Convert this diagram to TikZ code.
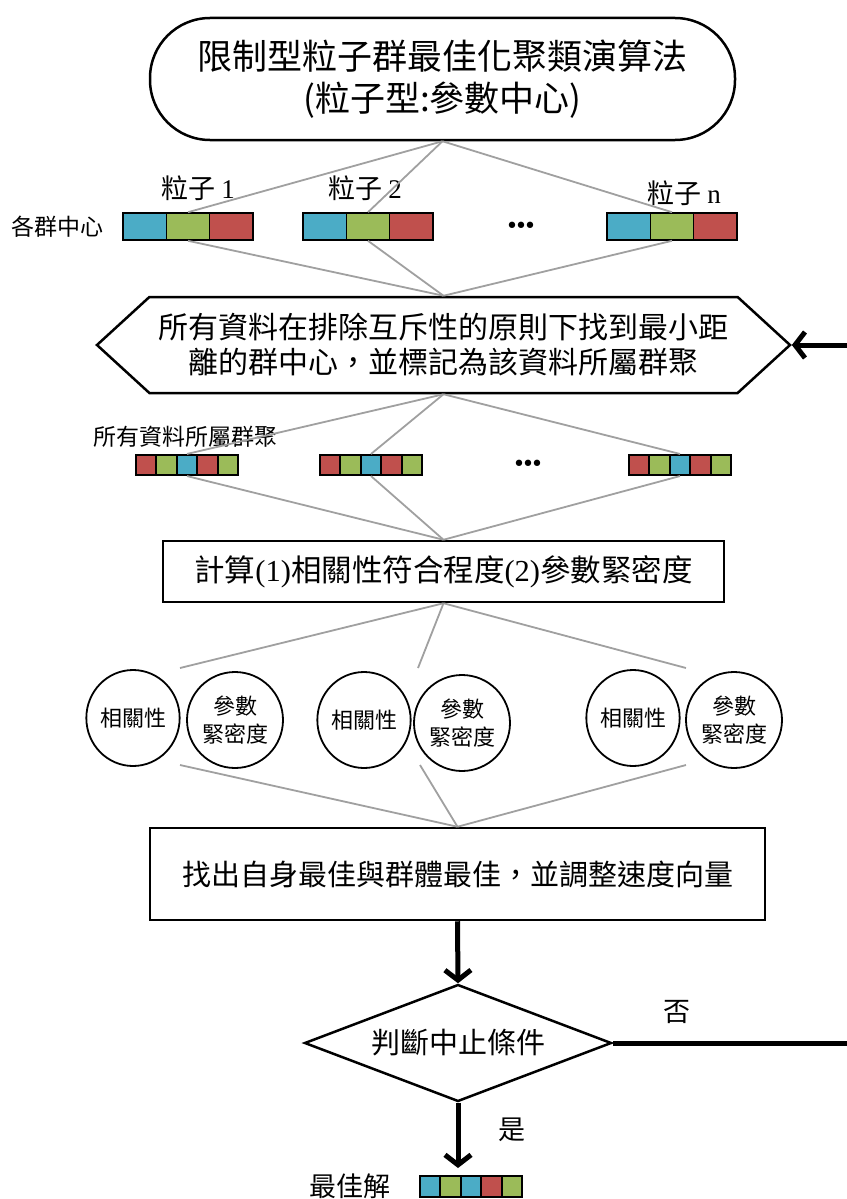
\documentclass[tikz,border=0pt]{standalone}
\usepackage{fontspec}
\setmainfont{Noto Sans CJK TC}
\newfontfamily\latin{Liberation Serif}
\newfontfamily\dejavu{DejaVu Sans}
\usetikzlibrary{arrows.meta,shapes.geometric,shapes.symbols}
\definecolor{cellblue}{HTML}{4BACC6}
\definecolor{cellgreen}{HTML}{9BBB59}
\definecolor{cellred}{HTML}{C0504D}
\definecolor{linkgray}{HTML}{A0A0A0}

\begin{document}
\begin{tikzpicture}[x=1pt,y=-1pt,
                    box/.style={draw,line width=2.5pt,align=center,font=\fontsize{29}{34}\selectfont},
                    cellA/.style={draw,line width=1.6pt,minimum width=43.3pt,minimum height=27pt,inner sep=0pt},
                    cellB/.style={draw,line width=1.6pt,minimum width=20.5pt,minimum height=20.5pt,inner sep=0pt},
                    oval/.style={draw,ellipse,line width=1.8pt,minimum width=88pt,minimum height=96pt,inner sep=0pt,align=center,font=\fontsize{22}{28}\selectfont},
                    lbl/.style={font=\fontsize{27}{32}\selectfont},
                    small/.style={font=\fontsize{23}{26}\selectfont},
                    dots/.style={font=\dejavu\fontsize{22}{22}\selectfont},
                    link/.style={linkgray,line width=1.8pt},
                    flow/.style={line width=5pt,-{Straight Barb[length=10pt,width=26pt]}}]
\useasboundingbox (0,0) rectangle (846,1199);
\node[box,rounded corners=60pt,minimum width=585pt,minimum height=122pt,font=\fontsize{35}{42}\selectfont] (title) at (442.5,79) {限制型粒子群最佳化聚類演算法\\(粒子型:參數中心)};
\node[box,signal,signal to=west and east,signal pointer angle=85,minimum width=693pt,minimum height=96pt,font=\fontsize{30}{35}\selectfont] (assign) at (443.5,345) {所有資料在排除互斥性的原則下找到最小距\\離的群中心，並標記為該資料所屬群聚};
\node[box,minimum width=561pt,minimum height=61pt,font=\fontsize{30.5}{35}\selectfont] (score) at (443.5,571.5) {計算{\latin(1)}相關性符合程度{\latin(2)}參數緊密度};
\node[box,minimum width=615pt,minimum height=92pt] (update) at (457.5,874) {找出自身最佳與群體最佳，並調整速度向量};
\node[box,diamond,aspect=2.6,minimum width=307pt,minimum height=117pt,inner sep=0pt] (judge) at (458,1043) {判斷中止條件};

% particles (cluster centres)
\node[small] (centers) at (57,227) {各群中心};
\node[lbl] (name1) at (198,188) {粒子 {\latin 1}};
\node[lbl] (name2) at (365,188) {粒子 {\latin 2}};
\node[lbl] (name3) at (684,193) {粒子 {\latin n}};
\foreach \p/\cx in {1/188,2/368,3/672}
  \foreach \col [count=\k] in {cellblue,cellgreen,cellred}
    \node[cellA,fill=\col] (c\p-\k) at (\cx+43.3*\k-86.6,226.5) {};
\node[dots] (more1) at (521,228) {•\kern-4pt•\kern-4pt•};

% cluster of every data item
\node[small] (members) at (185,437) {所有資料所屬群聚};
\foreach \p/\cx in {1/187,2/371,3/680}
  \foreach \col [count=\k] in {cellred,cellgreen,cellblue,cellred,cellgreen}
    \node[cellB,fill=\col] (d\p-\k) at (\cx+20.5*\k-61.5,465) {};
\node[dots] (more2) at (528,466) {•\kern-4pt•\kern-4pt•};

\foreach \p in {1,2,3} {
  \draw[link] (title.south) -- (c\p-2.north);
  \draw[link] (c\p-2.south) -- (assign.north);
  \draw[link] (assign.south) -- (d\p-3.north);
  \draw[link] (d\p-3.south) -- (score.north);
}

% fitness values
\node[oval] (rel1) at (133,718) {相關性};
\node[oval,minimum width=96pt] (den1) at (235,720) {參數\\緊密度};
\node[oval] (rel2) at (364,720) {相關性};
\node[oval,minimum width=96pt] (den2) at (462,723) {參數\\緊密度};
\node[oval] (rel3) at (633,718) {相關性};
\node[oval,minimum width=96pt] (den3) at (734,720) {參數\\緊密度};
\coordinate (in1) at (180,668);
\coordinate (in2) at (418,668);
\coordinate (in3) at (686,668);
\coordinate (out1) at (180,765);
\coordinate (out2) at (420,765);
\coordinate (out3) at (686,765);
\foreach \p in {1,2,3} {
  \draw[link] (score.south) -- (in\p);
  \draw[link] (out\p) -- (update.north);
}

% loop
\draw[flow] (update.south) -- (judge.north);
\coordinate (back) at (852,700);
\draw[flow] (judge.east) -| (back) |- (assign.east);
\node[lbl] (no) at (677,1012) {否};
\node[lbl] (yes) at (512,1130) {是};
\node[lbl] (best) at (350,1186) {最佳解};
\foreach \col [count=\k] in {cellblue,cellgreen,cellblue,cellred,cellgreen}
  \node[cellB,fill=\col] (b-\k) at (409.5+20.5*\k,1186.5) {};
\coordinate (done) at (458,1168);
\draw[flow] (judge.south) -- (done);
\end{tikzpicture}
\end{document}
